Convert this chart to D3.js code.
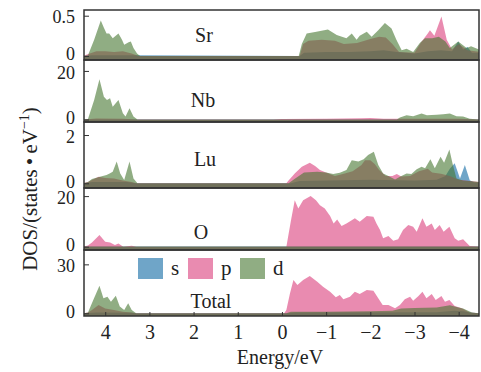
<!DOCTYPE html>
<html>
<head>
<meta charset="utf-8">
<script src="https://cdn.jsdelivr.net/npm/d3@7"></script>
<style>
  body { margin: 0; background: #fff; }
  text { font-family: "Liberation Serif", "Times New Roman", serif; fill: #222; }
</style>
</head>
<body>
<div id="chart"></div>
<script>
// energy (eV) vs DOS
const elements = ["Sr", "Nb", "Lu", "O", "Total"];
const orbitals = ["s", "p", "d"];
const energyTicks = [4, 3, 2, 1, 0, -1, -2, -3, -4];
const dosTicks = [0.5, 20, 2, 20, 30];
const dosMin = [-0.05, -1.03, -0.195, -1.3, -1.65];
const dosMax = [0.571, 24.5, 2.54, 23.2, 38.8];

const srS = [[4.5,0],[4.3,0.01],[3.3,0.01],[-0.4,0],[-0.5,0.04],[-1.0,0.05],[-1.5,0.05],[-2.0,0.06],[-2.3,0.07],[-2.6,0.05],[-3.0,0.03],[-3.3,0.06],[-3.6,0.07],[-3.85,0.06],[-3.99,0.18],[-4.1,0.08],[-4.2,0.11],[-4.3,0.04],[-4.5,0.04]];
const srP = [[4.5,0],[4.4,0.02],[4.2,0.06],[4.0,0.06],[3.8,0.05],[3.6,0.06],[3.4,0.03],[3.25,0],[-0.4,0],[-0.48,0.15],[-0.6,0.19],[-0.9,0.2],[-1.2,0.19],[-1.4,0.15],[-1.7,0.16],[-2.0,0.21],[-2.2,0.24],[-2.35,0.23],[-2.5,0.15],[-2.65,0.05],[-3.0,0.04],[-3.15,0.17],[-3.3,0.28],[-3.35,0.32],[-3.45,0.25],[-3.61,0.49],[-3.73,0.2],[-3.85,0.08],[-4.0,0.15],[-4.2,0.07],[-4.5,0.05]];
const srD = [[4.5,0],[4.39,0.01],[4.25,0.2],[4.1,0.44],[4.03,0.35],[3.97,0.28],[3.91,0.28],[3.83,0.22],[3.7,0.28],[3.62,0.2],[3.57,0.14],[3.47,0.17],[3.42,0.18],[3.36,0.1],[3.28,0.03],[3.21,0],[-0.38,0],[-0.45,0.15],[-0.56,0.28],[-0.78,0.3],[-1.04,0.33],[-1.24,0.26],[-1.46,0.22],[-1.58,0.28],[-1.69,0.2],[-1.76,0.25],[-1.92,0.3],[-2.03,0.24],[-2.18,0.32],[-2.33,0.41],[-2.48,0.34],[-2.59,0.2],[-2.71,0.07],[-2.82,0.09],[-2.97,0.05],[-3.12,0.16],[-3.24,0.22],[-3.4,0.22],[-3.55,0.24],[-3.7,0.18],[-3.8,0.1],[-3.99,0.18],[-4.18,0.1],[-4.28,0.12],[-4.5,0.07]];

const nbS = [[4.5,0.05],[-4.5,0.05]];
const nbP = [[4.5,0],[4.2,0.4],[3.6,0.3],[3.3,0],[0.2,0],[0,0.2],[-1.0,0.3],[-1.8,0.5],[-2.0,0.6],[-2.3,0.3],[-3.0,0.3],[-4.0,0.3],[-4.5,0]];
const nbD = [[4.5,0],[4.39,0.2],[4.25,8],[4.13,16.6],[4.03,9.4],[3.96,8.0],[3.89,8.7],[3.83,5.3],[3.7,8.0],[3.6,2.6],[3.54,1.2],[3.45,4.6],[3.36,1.2],[3.27,0],[-2.6,0],[-2.67,0.8],[-2.82,1.8],[-2.97,1.3],[-3.16,2.5],[-3.28,1.8],[-3.5,2.0],[-3.65,2.2],[-3.8,2.5],[-3.95,1.3],[-4.1,1.2],[-4.25,0.3],[-4.5,0]];

const luS = [[4.5,0],[4.3,0.05],[3.5,0.05],[3.3,0],[-0.2,0],[-0.4,0.1],[-1.0,0.12],[-2.0,0.15],[-3.0,0.12],[-3.5,0.15],[-3.7,0.3],[-3.8,0.6],[-3.91,0.83],[-4.03,0.2],[-4.14,0.76],[-4.25,0.13],[-4.35,0.03],[-4.5,0.03]];
const luP = [[4.5,0],[4.39,0.05],[4.15,0.27],[4.0,0.22],[3.8,0.2],[3.6,0.12],[3.4,0.05],[3.3,0],[-0.1,0],[-0.14,0.1],[-0.29,0.41],[-0.45,0.69],[-0.63,0.85],[-0.75,0.72],[-0.86,0.55],[-1.01,0.44],[-1.2,0.3],[-1.4,0.4],[-1.6,0.5],[-1.8,0.76],[-1.88,0.96],[-2.0,0.96],[-2.1,0.8],[-2.2,0.55],[-2.35,0.3],[-2.5,0.3],[-2.6,0.38],[-2.7,0.28],[-2.9,0.3],[-3.1,0.5],[-3.3,0.6],[-3.4,0.45],[-3.6,0.4],[-3.8,0.3],[-4.0,0.15],[-4.5,0.05]];
const luD = [[4.5,0],[4.39,0.05],[4.3,0.18],[4.12,0.27],[3.97,0.34],[3.9,0.41],[3.83,0.48],[3.74,0.9],[3.66,0.41],[3.57,0.14],[3.45,0.9],[3.36,0.2],[3.27,0],[-0.15,0],[-0.3,0.2],[-0.5,0.45],[-0.8,0.48],[-1.0,0.45],[-1.16,0.38],[-1.31,0.44],[-1.46,0.55],[-1.58,0.96],[-1.73,0.9],[-1.85,1.0],[-1.95,1.17],[-2.08,1.31],[-2.18,0.76],[-2.29,0.41],[-2.41,0.3],[-2.56,0.16],[-2.67,0.27],[-2.82,0.41],[-2.93,0.38],[-3.05,0.58],[-3.16,0.69],[-3.24,0.62],[-3.36,1.0],[-3.46,0.62],[-3.59,1.1],[-3.67,0.85],[-3.79,1.4],[-3.86,0.83],[-3.95,0.2],[-4.1,0.12],[-4.3,0.08],[-4.5,0.05]];

const oS = [[4.5,0.05],[-4.5,0.05]];
const oP = [[4.5,0],[4.39,0.5],[4.3,1.7],[4.13,4.6],[4.0,2.0],[3.89,1.7],[3.78,0.7],[3.7,1.3],[3.59,0],[3.4,0.4],[3.3,0],[-0.1,0],[-0.2,10],[-0.29,18.4],[-0.37,15.1],[-0.48,18.4],[-0.65,20.0],[-0.77,18.4],[-0.86,16.4],[-0.97,15.1],[-1.09,12.1],[-1.17,9.2],[-1.25,10.8],[-1.35,8.2],[-1.46,9.2],[-1.58,10.5],[-1.65,11.2],[-1.76,9.9],[-1.92,12.1],[-2.07,11.8],[-2.14,9.2],[-2.22,6.6],[-2.29,3.3],[-2.41,4.2],[-2.52,2.4],[-2.63,2.9],[-2.74,6.6],[-2.86,8.6],[-2.97,7.9],[-3.05,5.9],[-3.18,11.2],[-3.27,7.9],[-3.39,9.2],[-3.46,6.6],[-3.57,8.6],[-3.66,5.9],[-3.79,7.9],[-3.91,3.3],[-3.99,2.4],[-4.1,2.9],[-4.25,0.3],[-4.5,0]];
const oD = [[4.5,0.1],[-4.5,0.1]];

const totS = [[4.5,0],[4.2,0.5],[3.4,0.3],[3.3,0],[-0.1,0],[-0.3,0.5],[-3.5,0.6],[-3.9,1.5],[-4.1,1.2],[-4.3,0.3],[-4.5,0]];
const totP = [[4.5,0],[4.39,0.5],[4.3,2],[4.15,5.1],[4.0,3],[3.8,2],[3.6,1],[3.4,0.5],[3.3,0],[-0.05,0],[-0.1,2],[-0.18,12],[-0.26,20.4],[-0.35,17.3],[-0.48,20.4],[-0.63,22.8],[-0.8,19.4],[-0.93,16.3],[-1.09,13.2],[-1.22,9.8],[-1.31,11.2],[-1.39,8.6],[-1.54,10.2],[-1.65,13.2],[-1.76,11.8],[-1.92,14.3],[-2.07,13.8],[-2.18,9.2],[-2.28,5.1],[-2.41,5.1],[-2.56,3.1],[-2.67,5.1],[-2.78,8.6],[-2.9,10.2],[-2.97,7.7],[-3.09,10.6],[-3.18,13.2],[-3.27,9.2],[-3.39,11.8],[-3.48,8.1],[-3.61,10.6],[-3.69,7.1],[-3.79,8.1],[-3.91,4.5],[-4.07,3.1],[-4.25,0.5],[-4.5,0]];
const totD = [[4.5,0],[4.39,0.5],[4.27,8.1],[4.13,16.9],[4.04,9.2],[3.95,10.2],[3.87,7.1],[3.76,10.8],[3.67,4.1],[3.57,2.0],[3.48,6.1],[3.4,2.0],[3.3,0],[-0.1,0],[-0.2,1],[-1.0,1],[-2.0,1.2],[-2.5,1.5],[-2.7,3.0],[-3.0,3.2],[-3.5,3.5],[-3.8,5.0],[-4.0,3.5],[-4.1,3.0],[-4.3,0.5],[-4.5,0]];

const series = [
  [srS, srP, srD],
  [nbS, nbP, nbD],
  [luS, luP, luD],
  [oS, oP, oD],
  [totS, totP, totD]
];

const width = 481, height = 372;
const left = 84, right = 479;
const panelTop = [10, 60, 122, 188, 250];
const panelBottom = [60, 122, 188, 250, 316];
const labelPos = [[204, 42], [203, 107], [205, 166], [201, 239], [211, 308]];
const colors = {s: "rgba(15,105,163,0.6)", p: "rgba(218,62,123,0.6)", d: "rgba(70,118,48,0.6)"};

const svg = d3.select("#chart").append("svg")
  .attr("width", width)
  .attr("height", height);

const x = d3.scaleLinear().domain([4.48, -4.46]).range([left, right]);

elements.forEach((name, i) => {
  const y = d3.scaleLinear()
    .domain([dosMin[i], dosMax[i]])
    .range([panelBottom[i], panelTop[i]]);

  svg.append("clipPath").attr("id", "clip" + i)
    .append("rect")
    .attr("x", left).attr("y", panelTop[i])
    .attr("width", right - left).attr("height", panelBottom[i] - panelTop[i]);

  const area = d3.area()
    .x(d => x(d[0]))
    .y0(y(dosMin[i]))
    .y1(d => y(d[1]));

  const g = svg.append("g").attr("clip-path", "url(#clip" + i + ")");
  series[i].forEach((s, k) => {
    g.append("path")
      .datum(s)
      .attr("fill", colors[orbitals[k]])
      .attr("d", area);
  });

  // y axis, ticks inward
  const yAxis = svg.append("g")
    .attr("transform", "translate(" + left + ",0)")
    .call(d3.axisLeft(y).tickValues([0, dosTicks[i]]).tickSize(-5).tickPadding(9)
      .tickFormat(d3.format("")));
  yAxis.select(".domain").remove();
  yAxis.selectAll("line").attr("stroke", "#333");
  yAxis.selectAll("text")
    .style("font-family", "Liberation Serif")
    .style("font-size", "18px")
    .attr("fill", "#222")
    .attr("dy", d => d === 0 ? "0.22em" : "0.4em");

  svg.append("rect")
    .attr("x", left).attr("y", panelTop[i])
    .attr("width", right - left).attr("height", panelBottom[i] - panelTop[i])
    .attr("fill", "none")
    .attr("stroke", "#333")
    .attr("stroke-width", 1.5);

  svg.append("text")
    .attr("x", labelPos[i][0]).attr("y", labelPos[i][1])
    .attr("text-anchor", "middle")
    .style("font-size", "20px")
    .text(name);
});

// x axis on the bottom panel
const xAxis = svg.append("g")
  .attr("transform", "translate(0," + panelBottom[4] + ")")
  .call(d3.axisBottom(x).tickValues(energyTicks).tickSize(-4).tickPadding(9));
xAxis.select(".domain").remove();
xAxis.selectAll("line").attr("stroke", "#333");
xAxis.selectAll("text")
  .style("font-family", "Liberation Serif")
  .style("font-size", "20px")
  .attr("fill", "#222");

svg.append("text")
  .attr("x", 280).attr("y", 364)
  .attr("text-anchor", "middle")
  .style("font-size", "20px")
  .text("Energy/eV");

svg.append("text")
  .attr("transform", "translate(37,189) rotate(-90)")
  .attr("text-anchor", "middle")
  .style("font-size", "21px")
  .html("DOS/(states\u2009\u2022\u2009eV<tspan dy='-8' font-size='14px'>\u22121</tspan><tspan dy='8'>)</tspan>");

// legend in the Total panel
const legendX = [138, 188, 240];
orbitals.forEach((o, k) => {
  svg.append("rect")
    .attr("x", legendX[k]).attr("y", 258)
    .attr("width", 25).attr("height", 21)
    .attr("fill", colors[o]);
  svg.append("text")
    .attr("x", legendX[k] + 33).attr("y", 275)
    .style("font-size", "21px")
    .text(o);
});
</script>
</body>
</html>
